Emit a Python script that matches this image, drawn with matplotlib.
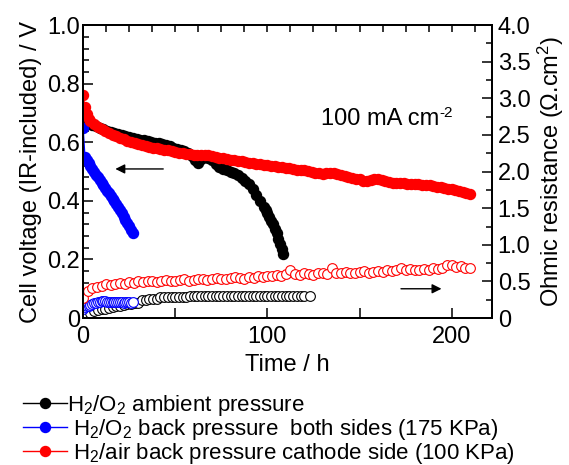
import numpy as np
import matplotlib
matplotlib.use("Agg")
import matplotlib.pyplot as plt
from matplotlib.ticker import MultipleLocator, FuncFormatter

plt.rcParams['font.family'] = ['Liberation Sans', 'DejaVu Sans']
plt.rcParams['mathtext.fontset'] = 'custom'
plt.rcParams['mathtext.rm'] = 'Liberation Sans'
plt.rcParams['mathtext.it'] = 'Liberation Sans:italic'
plt.rcParams['mathtext.bf'] = 'Liberation Sans:bold'

# cell voltage, H2/O2 ambient pressure
t_black = [0, 1, 2, 3, 4, 5, 7, 9, 11, 13, 15, 17, 19, 21, 23, 25, 27, 29, 31, 33,
           35, 37, 39, 41, 43, 45, 47, 49, 51, 53, 55, 57, 59, 61, 62.5, 64, 66, 68,
           70, 72, 74, 76, 78, 80, 82, 84, 86, 88, 90, 92, 94, 96, 98, 99, 100, 101,
           102, 103, 104, 105, 106, 107, 108, 108.7]
v_black = [0.71, 0.69, 0.68, 0.67, 0.665, 0.66, 0.655, 0.65, 0.645, 0.64, 0.636, 0.632,
           0.628, 0.624, 0.62, 0.617, 0.614, 0.612, 0.609, 0.607, 0.604, 0.601, 0.599,
           0.597, 0.594, 0.59, 0.586, 0.582, 0.578, 0.574, 0.569, 0.562, 0.553, 0.54,
           0.53, 0.543, 0.55, 0.548, 0.54, 0.527, 0.515, 0.508, 0.505, 0.50, 0.495,
           0.487, 0.478, 0.468, 0.456, 0.44, 0.42, 0.40, 0.38, 0.37, 0.357, 0.345,
           0.333, 0.32, 0.305, 0.29, 0.27, 0.253, 0.237, 0.22]

# cell voltage, H2/O2 back pressure both sides
t_blue = [0, 1, 2, 3, 4, 5, 6, 7, 8, 9, 10, 11, 12, 13, 14, 15, 16, 17, 18, 19, 20,
          21, 22, 23, 24, 25, 26, 27]
v_blue = [0.65, 0.55, 0.54, 0.53, 0.52, 0.51, 0.50, 0.49, 0.48, 0.47, 0.462, 0.453,
          0.444, 0.435, 0.426, 0.417, 0.408, 0.399, 0.39, 0.379, 0.368, 0.357, 0.346,
          0.335, 0.324, 0.313, 0.302, 0.29]

# cell voltage, H2/air back pressure cathode side
t_red = [0, 1, 2, 3, 4, 6, 8, 10, 12, 14, 16, 18, 20, 22, 24, 26, 28, 30, 32, 34, 36,
         38, 40, 42, 44, 46, 48, 50, 52, 54, 56, 58, 60, 62, 64, 66, 68, 70, 72, 74,
         76, 78, 80, 82, 84, 86, 88, 90, 92, 94, 96, 98, 100, 102, 104, 106, 108, 110,
         112, 114, 116, 118, 120, 122, 124, 126, 128, 130, 132, 134, 136, 138, 140,
         142, 144, 146, 148, 150, 152, 154, 156, 158, 160, 162, 164, 166, 168, 170,
         172, 174, 176, 178, 180, 182, 184, 186, 188, 190, 192, 194, 196, 198, 200,
         202, 204, 206, 208, 210]
v_red = [0.76, 0.72, 0.695, 0.68, 0.672, 0.662, 0.652, 0.645, 0.638, 0.632, 0.626,
         0.621, 0.616, 0.611, 0.606, 0.602, 0.598, 0.594, 0.591, 0.588, 0.585, 0.582,
         0.579, 0.577, 0.575, 0.573, 0.57, 0.567, 0.565, 0.563, 0.561, 0.559, 0.558,
         0.557, 0.558, 0.558, 0.556, 0.553, 0.55, 0.548, 0.546, 0.544, 0.541, 0.538,
         0.536, 0.535, 0.533, 0.531, 0.529, 0.527, 0.525, 0.523, 0.521, 0.519, 0.518,
         0.516, 0.515, 0.513, 0.511, 0.509, 0.507, 0.506, 0.505, 0.502, 0.499, 0.496,
         0.494, 0.493, 0.494, 0.495, 0.494, 0.491, 0.488, 0.485, 0.482, 0.479, 0.476,
         0.473, 0.469, 0.467, 0.472, 0.476, 0.475, 0.471, 0.467, 0.464, 0.462, 0.461,
         0.46, 0.46, 0.459, 0.458, 0.457, 0.457, 0.455, 0.454, 0.453, 0.452, 0.449,
         0.446, 0.443, 0.441, 0.44, 0.437, 0.434, 0.431, 0.428, 0.425]

# ohmic resistance (ohm cm2)
t_r_black = [0, 2, 4, 6, 8, 10, 12, 14, 16, 18, 20, 22, 24, 26, 28, 30, 32, 34, 36, 38,
             40, 42, 44, 46, 48, 50, 52, 54, 56, 58, 60, 62, 64, 66, 68, 70, 72, 74, 76,
             78, 80, 82, 84, 86, 88, 90, 92, 94, 96, 98, 100, 102, 104, 106, 108, 110,
             112, 114, 116, 118, 120, 123]
r_black = [0.01, 0.05, 0.07, 0.09, 0.11, 0.12, 0.13, 0.14, 0.15, 0.16, 0.17, 0.18, 0.19,
           0.195, 0.20, 0.21, 0.245, 0.25, 0.255, 0.26, 0.265, 0.29, 0.29, 0.29, 0.29,
           0.29, 0.29, 0.29, 0.29, 0.295, 0.295, 0.295, 0.295, 0.295, 0.295, 0.30, 0.30,
           0.30, 0.30, 0.30, 0.30, 0.30, 0.30, 0.30, 0.30, 0.30, 0.30, 0.30, 0.30, 0.30,
           0.30, 0.30, 0.30, 0.30, 0.30, 0.30, 0.30, 0.30, 0.30, 0.30, 0.30, 0.30]

t_r_blue = t_blue
r_blue = [0.13, 0.15, 0.16, 0.17, 0.18, 0.19, 0.20, 0.21, 0.22, 0.225, 0.23, 0.235, 0.23,
          0.225, 0.22, 0.22, 0.215, 0.22, 0.22, 0.215, 0.22, 0.215, 0.21, 0.215, 0.22,
          0.215, 0.21, 0.215]

t_r_red = [0, 2.5, 5, 7.5, 10, 12.5, 15, 17.5, 20, 22.5, 25, 27.5, 30, 32.5, 35, 37.5,
           40, 42.5, 45, 47.5, 50, 52.5, 55, 57.5, 60, 62.5, 65, 67.5, 70, 72.5, 75,
           77.5, 80, 82.5, 85, 87.5, 90, 92.5, 95, 97.5, 100, 102.5, 105, 107.5, 110,
           112.5, 115, 117.5, 120, 122.5, 125, 127.5, 130, 132.5, 135, 137.5, 140,
           142.5, 145, 147.5, 150, 152.5, 155, 157.5, 160, 162.5, 165, 167.5, 170,
           172.5, 175, 177.5, 180, 182.5, 185, 187.5, 190, 192.5, 195, 197.5, 200,
           202.5, 205, 207.5, 210]
r_red = [0.28, 0.37, 0.41, 0.43, 0.44, 0.46, 0.45, 0.47, 0.48, 0.47, 0.49, 0.48, 0.50,
         0.49, 0.51, 0.50, 0.49, 0.51, 0.52, 0.50, 0.51, 0.52, 0.53, 0.51, 0.52, 0.54,
         0.53, 0.52, 0.54, 0.55, 0.54, 0.53, 0.55, 0.56, 0.55, 0.54, 0.56, 0.55, 0.57,
         0.56, 0.58, 0.57, 0.59, 0.58, 0.60, 0.65, 0.60, 0.59, 0.61, 0.60, 0.59, 0.61,
         0.62, 0.60, 0.68, 0.62, 0.61, 0.63, 0.62, 0.61, 0.63, 0.64, 0.62, 0.63, 0.64,
         0.63, 0.65, 0.64, 0.66, 0.68, 0.65, 0.67, 0.66, 0.65, 0.67, 0.66, 0.68, 0.67,
         0.69, 0.72, 0.73, 0.70, 0.71, 0.69, 0.69]

labels = ['H$_2$/O$_2$ ambient pressure',
          ' H$_2$/O$_2$ back pressure  both sides (175 KPa)',
          ' H$_2$/air back pressure cathode side (100 KPa)']

fs = 17
fig = plt.figure(figsize=(5.69, 4.65), dpi=100)
ax = fig.add_axes([0.146, 0.316, 0.719, 0.630])
ax2 = ax.twinx()

ms = 7.2
l1, = ax.plot(t_black, v_black, '-o', color='black', lw=1, ms=ms, zorder=3)
l2, = ax.plot(t_blue, v_blue, '-o', color='blue', lw=1, ms=ms, zorder=3)
l3, = ax.plot(t_red, v_red, '-o', color='red', lw=1, ms=ms, zorder=4)

ax2.plot(t_r_black, r_black, 'o', mfc='white', mec='black', mew=0.8, ms=7)
ax2.plot(t_r_blue, r_blue, 'o', mfc='white', mec='blue', mew=0.8, ms=7)
ax2.plot(t_r_red, r_red, 'o', mfc='white', mec='red', mew=0.8, ms=7)

ax.set_xlim(0, 222)
ax.set_ylim(0, 1.0)
ax2.set_ylim(0, 4.0)

ax.xaxis.set_major_locator(MultipleLocator(50))
ax.xaxis.set_minor_locator(MultipleLocator(12.5))
ax.xaxis.remove_overlapping_locs = False
ax.xaxis.set_major_formatter(FuncFormatter(lambda v, p: '%d' % v if v % 100 == 0 else ''))
ax.yaxis.set_major_locator(MultipleLocator(0.2))
ax.yaxis.set_minor_locator(MultipleLocator(0.04))
ax.yaxis.set_major_formatter(FuncFormatter(lambda v, p: '0' if v == 0 else '%.1f' % v))
ax2.yaxis.set_major_locator(MultipleLocator(0.5))
ax2.yaxis.set_minor_locator(MultipleLocator(0.25))
ax2.yaxis.set_major_formatter(FuncFormatter(lambda v, p: '0' if v == 0 else '%.1f' % v))

ax.tick_params(axis='x', which='major', direction='in', length=7, width=1.1,
               bottom=True, top=False, labelsize=fs, pad=6)
ax.tick_params(axis='x', which='minor', direction='in', length=5, width=1.1,
               bottom=False, top=True)
ax.tick_params(axis='y', which='major', direction='in', length=7, width=1.1,
               left=True, right=False, labelsize=fs, pad=2)
ax.tick_params(axis='y', which='minor', direction='in', length=4, width=1.1,
               left=True, right=False)
ax2.tick_params(axis='y', which='major', direction='in', length=7, width=1.1,
                labelsize=fs, pad=4)
ax2.tick_params(axis='y', which='minor', direction='in', length=4, width=1.1)

for a in (ax, ax2):
    for s in a.spines.values():
        s.set_linewidth(1.4)

ax.set_xlabel('Time / h', fontsize=fs, labelpad=4)
ax.set_ylabel('Cell voltage (IR-included) / V', fontsize=fs, labelpad=4)
ax2.set_ylabel('Ohmic resistance ($\\Omega$.cm$^2$)', fontsize=fs, labelpad=4)

# current density note, superscript drawn as its own small text
note = ax.text(129, 0.66, '100 mA cm', fontsize=fs, ha='left', va='baseline')
fig.canvas.draw()
bb = note.get_window_extent()
fig.text(bb.x1 / fig.bbox.width, (bb.y1 - 9) / fig.bbox.height, '-2',
         fontsize=11, ha='left', va='baseline')

ax.annotate('', xy=(16, 0.509), xytext=(45, 0.509),
            arrowprops=dict(arrowstyle='-|>', color='black', lw=1, mutation_scale=14))
ax2.annotate('', xy=(196, 0.40), xytext=(171, 0.40),
             arrowprops=dict(arrowstyle='-|>', color='black', lw=1, mutation_scale=14))

fig.legend([l1, l2, l3], labels, loc='upper left', bbox_to_anchor=(0.04, 0.155),
           frameon=False, fontsize=16, handlelength=2.0, handletextpad=0.0,
           labelspacing=-0.05, borderpad=0, borderaxespad=0)

fig.savefig('out.png', dpi=100)
